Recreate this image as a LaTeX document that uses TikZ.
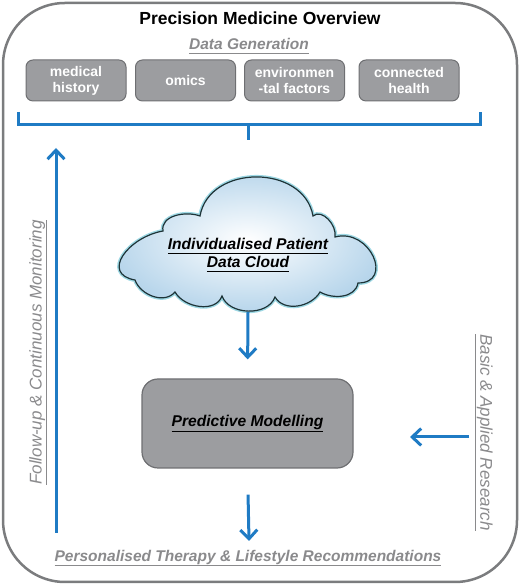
\documentclass[tikz,border=0pt]{standalone}
\usepackage{fontspec}
\setmainfont{Liberation Sans}
\usetikzlibrary{arrows.meta}
\definecolor{pmblue}{HTML}{1F7BC4}
\definecolor{txtgrey}{HTML}{8A8A8C}
\definecolor{boxfill}{HTML}{9C9DA0}
\definecolor{boxline}{HTML}{6E6F72}
\definecolor{frameline}{HTML}{7B7C7E}
\definecolor{cloudline}{HTML}{1E3438}
\definecolor{cloudglow}{HTML}{9ED8E4}
\definecolor{cloudout}{HTML}{B3D3EA}
\newcommand\myul[1]{\vtop{\hbox{#1\vphantom{y}}\kern0.6pt\hrule height 1.1pt}}
\tikzset{
  genbox/.style={draw=boxline, fill=boxfill, line width=1pt, rounded corners=7pt,
    minimum width=100pt, minimum height=41pt, text=white,
    font=\fontsize{14}{16}\selectfont\bfseries, align=center, inner sep=0pt},
  arr/.style={draw=pmblue, line width=3pt, -{Straight Barb[length=9pt,width=17pt]}},
  gtext/.style={text=txtgrey, font=\fontsize{15.5}{18}\selectfont\bfseries\itshape, inner sep=0pt},
  sidetext/.style={text=txtgrey, font=\fontsize{17}{20}\selectfont\itshape, inner sep=0pt},
}
\begin{document}
\begin{tikzpicture}[x=1pt,y=1pt]
\useasboundingbox (0,0) rectangle (520,585);
% outer frame
\draw[frameline, line width=2.5pt, rounded corners=62pt] (3,3) rectangle (517,582);
% title
\node[font=\fontsize{17.5}{20}\selectfont\bfseries] (title) at (260,567) {Precision Medicine Overview};
\node[gtext] (datagen) at (249,539) {\myul{Data Generation}};
% data boxes
\node[genbox] (med) at (76,504.5) {medical\\history};
\node[genbox] (omics) at (185.5,504.5) {omics};
\node[genbox] (env) at (294.5,504.5) {environmen\\-tal factors};
\node[genbox] (conn) at (409,504.5) {connected\\health};
% bracket
\draw[pmblue, line width=3pt] (18,473) -- (18,460) -- (480,460) -- (480,473);
\coordinate (brtick) at (248,460);
\coordinate (brtickend) at (248,445);
\draw[pmblue, line width=3pt] (brtick) -- (brtickend);
% cloud
\def\cloudpath{(163,354) to[out=100,in=160] (200,369)
  to[out=80,in=100,looseness=1.2] (313,369)
  to[out=40,in=80] (335,348)
  to[out=15,in=0,looseness=1.8] (358,302)
  to[out=-100,in=-30] (320,293)
  to[out=-120,in=-60] (275,288)
  to[out=-110,in=-70] (222,289)
  to[out=-110,in=-60] (175,293)
  to[out=-130,in=-70] (135,305)
  to[out=170,in=190,looseness=1.6] (163,354) -- cycle}
\path[draw=cloudglow, line width=4pt] \cloudpath;
\shade[inner color=white, outer color=cloudout] \cloudpath;
\path[draw=cloudline, line width=1.2pt] \cloudpath;
\node[font=\fontsize{15.6}{18}\selectfont\bfseries\itshape, align=center, inner sep=0pt] (cloud) at (248,330) {\myul{Individualised Patient}\\\myul{Data Cloud}};
% predictive modelling
\node[draw=boxline, fill=boxfill, line width=1.2pt, rounded corners=16pt,
  minimum width=211pt, minimum height=89pt,
  font=\fontsize{15.6}{18}\selectfont\bfseries\itshape] (pm) at (247.5,161.5) {\myul{Predictive Modelling}};
% arrows
\coordinate (a1s) at (248,273);
\draw[arr, shorten >=19pt] (a1s) -- (pm.north);
\coordinate (a3e) at (249,44);
\draw[arr, shorten <=26pt] (pm.south) -- (a3e);
\coordinate (brs) at (469,148);
\coordinate (bre) at (410,148);
\draw[arr] (brs) -- (bre);
\coordinate (fus) at (56,52);
\coordinate (fue) at (56,437);
\draw[arr] (fus) -- (fue);
% bottom and side labels
\node[gtext] (therapy) at (248,27) {\myul{Personalised Therapy \& Lifestyle Recommendations}};
\node[sidetext, rotate=90] (follow) at (38,232.5) {\myul{Follow-up \& Continuous Monitoring}};
\node[sidetext, rotate=-90] (basic) at (484,152.5) {\myul{Basic \& Applied Research}};
\end{tikzpicture}
\end{document}
